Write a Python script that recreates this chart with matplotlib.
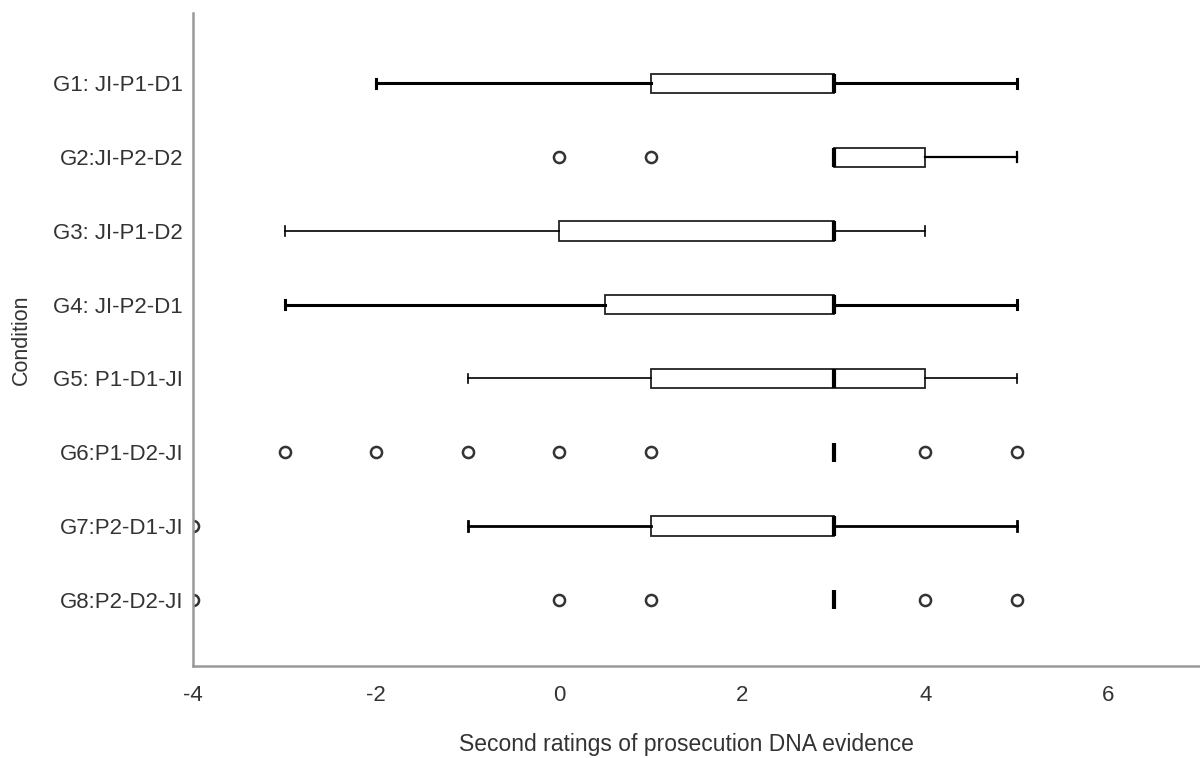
import matplotlib
matplotlib.use("Agg")
import matplotlib.pyplot as plt

plt.rcParams['font.family'] = ['Liberation Sans', 'DejaVu Sans']

categories = ["G1: JI-P1-D1", "G2:JI-P2-D2", "G3: JI-P1-D2", "G4: JI-P2-D1",
              "G5: P1-D1-JI", "G6:P1-D2-JI", "G7:P2-D1-JI", "G8:P2-D2-JI"]
whislo = [-2, 3, -3, -3, -1, 3, -1, 3]
q1 = [1, 3, 0, 0.5, 1, 3, 1, 3]
med = [3, 3, 3, 3, 3, 3, 3, 3]
q3 = [3, 4, 3, 3, 4, 3, 3, 3]
whishi = [5, 5, 4, 5, 5, 3, 5, 3]
fliers = [[], [0, 1], [], [], [], [-3, -2, -1, 0, 1, 4, 5], [-4], [-4, 0, 1, 4, 5]]

xticks = [-4, -2, 0, 2, 4, 6]
xlabel = "Second ratings of prosecution DNA evidence"
ylabel = "Condition"

whisker_lw = [2.2, 1.6, 1.2, 2.2, 1.2, 1.2, 2.0, 1.2]

fig = plt.figure(figsize=(12, 7.58), dpi=100)
ax = fig.add_axes([0.1608, 0.1213, 0.8392, 0.862])

n = len(categories)
positions = [n - i for i in range(n)]

for i in range(n):
    stats = [dict(label=categories[i], whislo=whislo[i], q1=q1[i], med=med[i],
                  q3=q3[i], whishi=whishi[i], fliers=fliers[i])]
    lw = whisker_lw[i]
    ax.bxp(stats, positions=[positions[i]], vert=False, widths=0.26,
           patch_artist=True,
           boxprops=dict(facecolor='white', edgecolor='#222222', linewidth=1.3),
           medianprops=dict(color='black', linewidth=3.0),
           whiskerprops=dict(color='black', linewidth=lw),
           capprops=dict(color='black', linewidth=lw),
           capwidths=0.13,
           flierprops=dict(marker='o', markersize=8, markerfacecolor='none',
                           markeredgecolor='#333333', markeredgewidth=1.8),
           manage_ticks=False)

ax.set_xlim(-4, 7)
ax.set_ylim(0.1, 8.96)
ax.set_xticks(xticks)
ax.set_xticklabels([str(t) for t in xticks])
ax.set_yticks(positions)
ax.set_yticklabels(categories)
ax.tick_params(axis='both', length=0, labelsize=16, colors='#333333', pad=7)
ax.tick_params(axis='x', pad=14)
for s in ['top', 'right']:
    ax.spines[s].set_visible(False)
for s in ['left', 'bottom']:
    ax.spines[s].set_color('#999999')
    ax.spines[s].set_linewidth(1.8)

ax.set_xlabel(xlabel, fontsize=16.5, color='#333333')
ax.xaxis.set_label_coords(0.49, -0.102)
ax.set_ylabel(ylabel, fontsize=15.5, color='#333333')
ax.yaxis.set_label_coords(-0.16, 0.5)

fig.savefig("out.png", dpi=100)
